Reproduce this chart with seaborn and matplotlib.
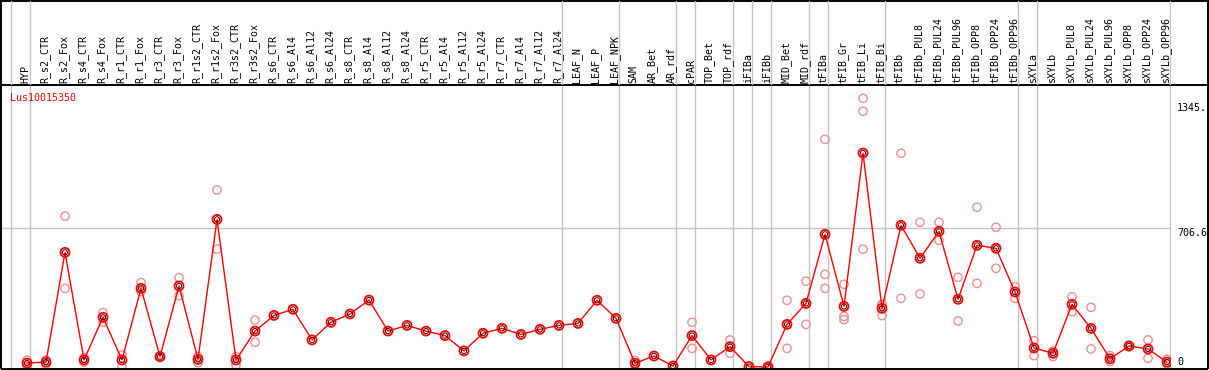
import matplotlib
matplotlib.use("Agg")
import matplotlib.pyplot as plt
import pandas as pd
import seaborn as sns

# 1. Data
samples = ["HYP", "R_s2_CTR", "R_s2_Fox", "R_s4_CTR", "R_s4_Fox", "R_r1_CTR", "R_r1_Fox",
           "R_r3_CTR", "R_r3_Fox", "R_r1s2_CTR", "R_r1s2_Fox", "R_r3s2_CTR", "R_r3s2_Fox",
           "R_s6_CTR", "R_s6_Al4", "R_s6_Al12", "R_s6_Al24", "R_s8_CTR", "R_s8_Al4",
           "R_s8_Al12", "R_s8_Al24", "R_r5_CTR", "R_r5_Al4", "R_r5_Al12", "R_r5_Al24",
           "R_r7_CTR", "R_r7_Al4", "R_r7_Al12", "R_r7_Al24", "LEAF_N", "LEAF_P", "LEAF_NPK",
           "SAM", "AR_Bet", "AR_rdf", "cPAR", "TOP_Bet", "TOP_rdf", "iFIBa", "iFIBb",
           "MID_Bet", "MID_rdf", "tFIBa", "tFIB_Gr", "tFIB_Li", "tFIB_Bi", "tFIBb",
           "tFIBb_PUL8", "tFIBb_PUL24", "tFIBb_PUL96", "tFIBb_OPP8", "tFIBb_OPP24",
           "tFIBb_OPP96", "sXYLa", "sXYLb", "sXYLb_PUL8", "sXYLb_PUL24", "sXYLb_PUL96",
           "sXYLb_OPP8", "sXYLb_OPP24", "sXYLb_OPP96"]

means = [20, 25, 584, 36, 253, 36, 401, 53, 413, 39, 752, 36, 183,
         263, 294, 138, 228, 270, 341, 183, 212, 183, 160, 82, 172,
         197, 166, 192, 212, 222, 340, 248,
         19, 56, 5, 160, 36, 104, 2, 0,
         217, 324, 676, 309, 1090, 299, 722,
         554, 691, 345, 620, 605, 382,
         97, 70, 319, 197, 42, 107, 92, 25]

# replicate measurements (light circles)
rep_samples = ["HYP", "HYP", "R_s2_CTR", "R_s2_CTR", "R_s2_Fox", "R_s2_Fox",
               "R_s4_CTR", "R_s4_CTR", "R_s4_Fox", "R_s4_Fox", "R_r1_CTR", "R_r1_CTR",
               "R_r1_Fox", "R_r1_Fox", "R_r3_CTR", "R_r3_CTR", "R_r3_Fox", "R_r3_Fox",
               "R_r1s2_CTR", "R_r1s2_CTR", "R_r1s2_Fox", "R_r1s2_Fox",
               "R_r3s2_CTR", "R_r3s2_CTR", "R_r3s2_Fox", "R_r3s2_Fox",
               "SAM", "SAM", "cPAR", "cPAR", "TOP_rdf", "TOP_rdf", "iFIBb", "iFIBb",
               "MID_Bet", "MID_Bet", "MID_rdf", "MID_rdf",
               "tFIBa", "tFIBa", "tFIBa", "tFIB_Gr", "tFIB_Gr", "tFIB_Gr",
               "tFIB_Li", "tFIB_Li", "tFIB_Li", "tFIB_Bi", "tFIB_Bi", "tFIB_Bi",
               "tFIBb", "tFIBb", "tFIBb_PUL8", "tFIBb_PUL8", "tFIBb_PUL24", "tFIBb_PUL24",
               "tFIBb_PUL96", "tFIBb_PUL96", "tFIBb_OPP8", "tFIBb_OPP8",
               "tFIBb_OPP24", "tFIBb_OPP24", "tFIBb_OPP96", "tFIBb_OPP96",
               "sXYLa", "sXYLa", "sXYLb", "sXYLb", "sXYLb_PUL8", "sXYLb_PUL8",
               "sXYLb_PUL24", "sXYLb_PUL24", "sXYLb_PUL96", "sXYLb_PUL96",
               "sXYLb_OPP8", "sXYLb_OPP8", "sXYLb_OPP24", "sXYLb_OPP24",
               "sXYLb_OPP96", "sXYLb_OPP96"]
rep_values = [5, 35, 36, 15, 769, 401,
              46, 25, 277, 228, 61, 5,
              430, 384, 50, 56, 455, 363,
              53, 22, 902, 600,
              53, 10, 239, 126,
              34, 10, 228, 95, 138, 70, 6, -2,
              340, 95, 437, 217,
              1160, 472, 401, 421, 258, 241,
              1369, 1303, 600, 320, 262, 315,
              1089, 350, 737, 372, 737, 645,
              457, 234, 814, 426,
              712, 503, 409, 350,
              134, 58, 82, 53, 357, 282,
              304, 92, 58, 27,
              109, 103, 138, 44,
              39, 15]

# vertical separators are drawn after these samples
group_ends = ["HYP", "R_r7_Al24", "LEAF_NPK", "AR_rdf", "cPAR", "TOP_rdf", "iFIBa",
              "iFIBb", "MID_rdf", "tFIBa", "tFIB_Bi", "tFIBb_OPP96", "sXYLa", "sXYLb_OPP96"]

gene = "Lus10015350"
ytick_vals = [0, 706.6, 1345]
ytick_text = ["0", "706.6", "1345."]

# 2. Tables for seaborn
pos = {s: i for i, s in enumerate(samples)}
df = pd.DataFrame({"pos": range(len(samples)), "value": means})
reps = pd.DataFrame({"pos": [pos[s] for s in rep_samples], "value": rep_values})

# 3. Figure
sns.set_style("white")
plt.rcParams["font.family"] = ["DejaVu Sans Mono"]
plt.rcParams["font.size"] = 7.2
plt.rcParams["text.color"] = "black"
plt.rcParams["ytick.color"] = "black"
plt.rcParams["ytick.labelcolor"] = "black"

W, H = 1209, 370
fig = plt.figure(figsize=(W / 100, H / 100), dpi=100)

# frame (pixel coordinates)
bg = fig.add_axes([0, 0, 1, 1], zorder=0)
bg.set_xlim(0, W)
bg.set_ylim(H, 0)
bg.axis("off")
for y in [0.5, 85, 369]:
    bg.plot([1, 1208], [y, y], color="black", lw=1.4, solid_capstyle="butt")
for x in [1, 1208]:
    bg.plot([x, x], [0, 369], color="black", lw=1.4, solid_capstyle="butt")

xlim = (-1.316, 60.21)
sep_x = [-0.86] + [pos[s] + 0.16 for s in group_ends]
grid_c = "#c4c4c4"

# header with sample names
hdr = fig.add_axes([2 / W, 1 - 85 / H, 1169 / W, 84 / H], zorder=1)
hdr.set_facecolor("none")
hdr.set_xlim(*xlim)
hdr.set_ylim(0, 1)
hdr.axis("off")
for x in sep_x:
    hdr.axvline(x, color=grid_c, lw=1)
for i, s in enumerate(samples):
    hdr.text(i - 0.07, 0.025, s, rotation=90, ha="center", va="bottom",
             fontsize=7.2, color="black")

# expression plot
ax = fig.add_axes([2 / W, 1 - 368 / H, 1169 / W, 282 / H], zorder=2)
ax.set_facecolor("none")
for x in sep_x:
    ax.axvline(x, color=grid_c, lw=1, zorder=0)
ax.axhline(706.6, color=grid_c, lw=1, zorder=0)

sns.scatterplot(data=reps, x="pos", y="value", ax=ax, marker="o", s=36,
                facecolor="none", edgecolor="#ee9090", linewidth=1.0, zorder=2)
sns.lineplot(data=df, x="pos", y="value", ax=ax, color="red", lw=1, zorder=3)
sns.scatterplot(data=df, x="pos", y="value", ax=ax, marker="o", s=42,
                facecolor="none", edgecolor="red", linewidth=1.3, zorder=4)
sns.scatterplot(data=df, x="pos", y="value", ax=ax, marker="o", s=14,
                facecolor="none", edgecolor="#400000", linewidth=0.7, zorder=5)

ax.set_xlim(*xlim)
ax.set_ylim(-5.1, 1431.7)
ax.set_xlabel("")
ax.set_ylabel("")
ax.set_xticks([])
for sp in ax.spines.values():
    sp.set_visible(False)

ax.yaxis.tick_right()
ax.set_yticks(ytick_vals)
ax.set_yticklabels(ytick_text)
ax.tick_params(axis="y", length=0, pad=4.5, labelsize=7.2, labelcolor="black")
for lbl in ax.get_yticklabels():
    lbl.set_va("bottom" if lbl.get_text() == "0" else "top")

ax.text(8 / 1169, 0.975, gene, transform=ax.transAxes, color="red",
        ha="left", va="top", fontsize=7.2)

fig.savefig("out.png", dpi=100)
